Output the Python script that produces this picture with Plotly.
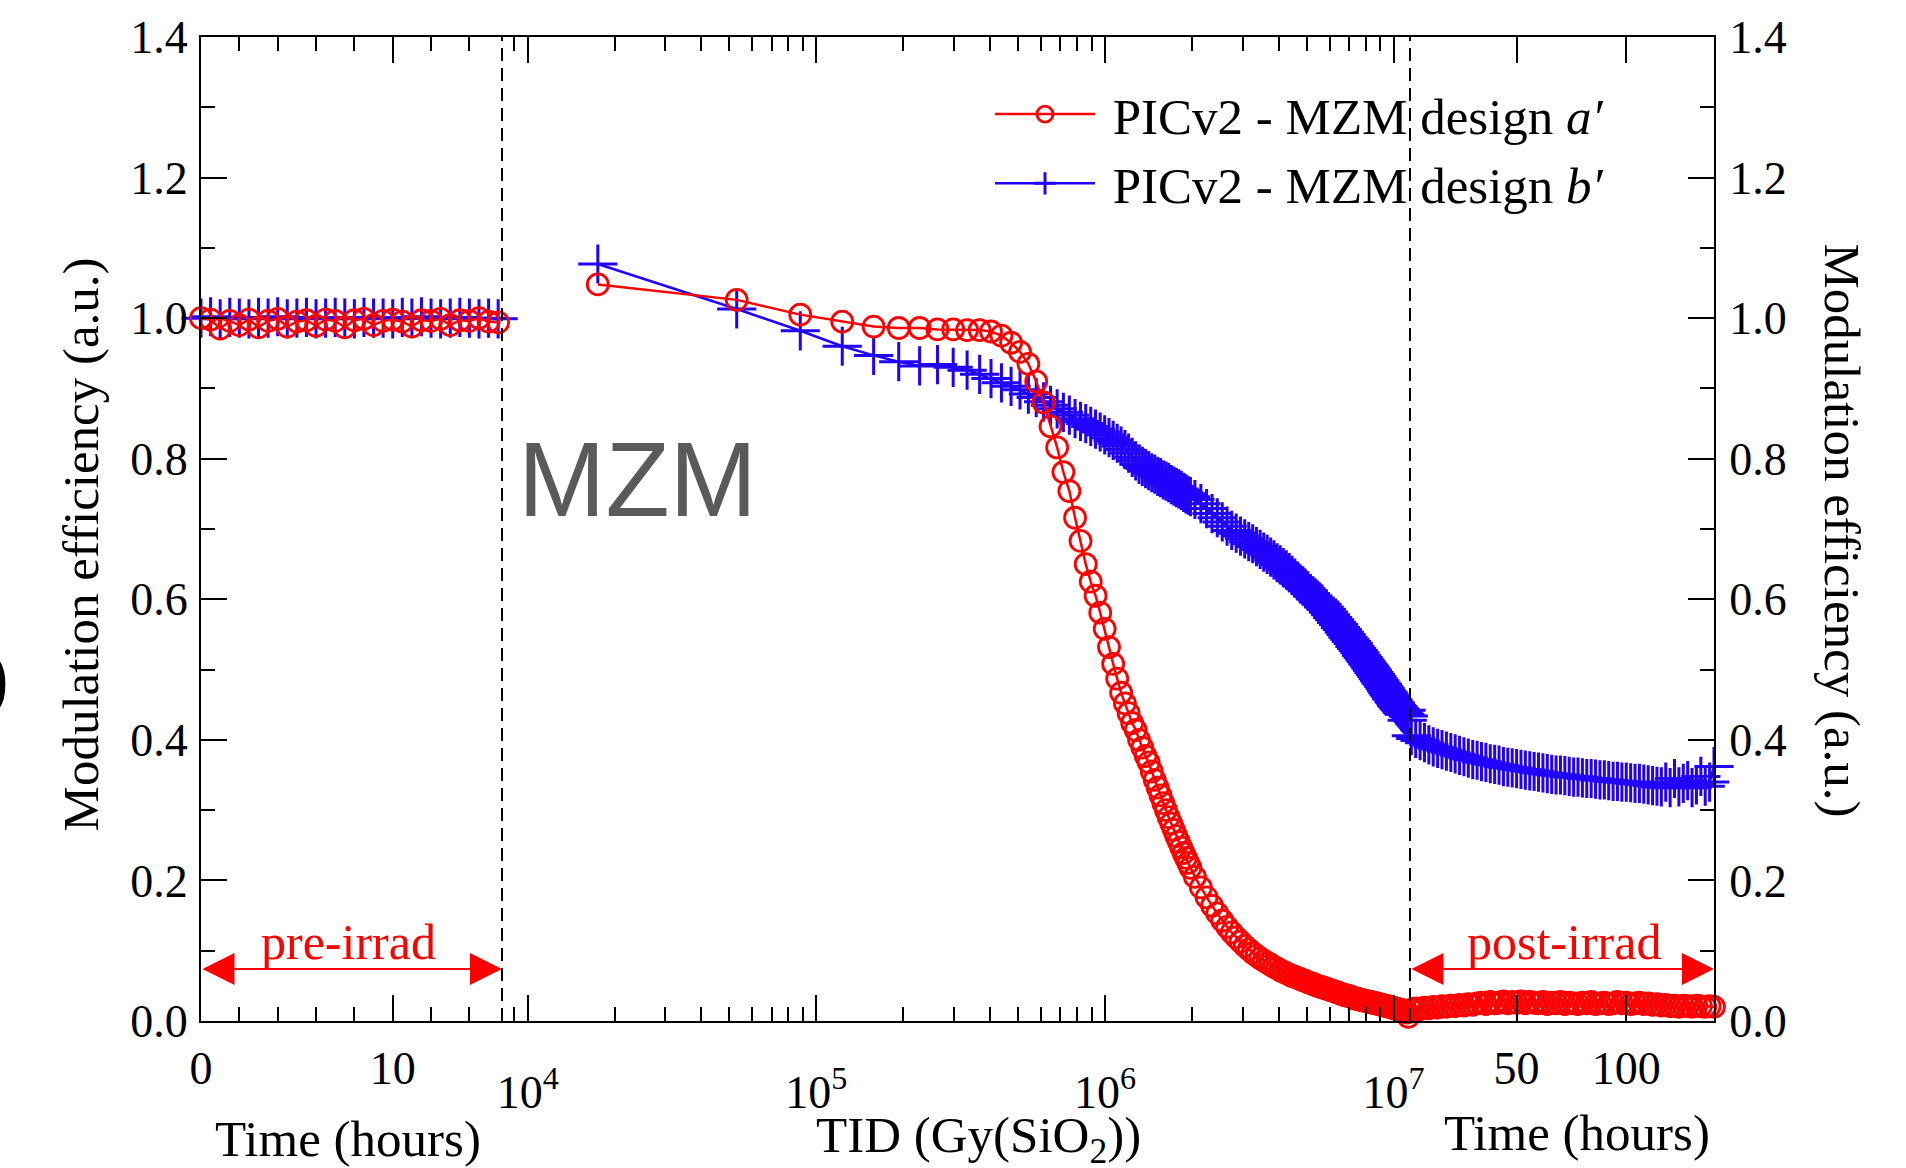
import plotly.graph_objects as go

# ---------------- data ----------------
pre_time = [0, 0.5, 1, 1.5, 2, 2.5, 3, 3.5, 4, 4.5, 5, 5.5, 6, 6.5, 7, 7.5,
            8, 8.5, 9, 9.5, 10, 10.5, 11, 11.5, 12, 12.5, 13, 13.5, 14, 14.5, 15, 15.5]
pre_a = [1.0, 0.998, 0.985, 0.996, 0.99, 0.998, 0.987, 0.996, 0.999, 0.988, 0.995, 0.997,
         0.989, 0.998, 0.996, 0.987, 0.997, 0.999, 0.99, 0.996, 0.998, 0.995, 0.988, 0.997,
         0.996, 0.999, 0.99, 0.997, 0.996, 1.0, 0.995, 0.994]
pre_b = [1.0, 1.002, 0.999, 1.001, 1.0, 0.999, 1.001, 1.0, 1.002, 0.999, 1.0, 1.001,
         0.999, 1.0, 1.001, 1.0, 0.999, 1.001, 1.0, 1.0, 0.999, 1.001, 1.0, 1.002,
         1.0, 0.999, 1.0, 1.001, 1.0, 0.999, 1.0, 0.999]

tid_dose = [17500, 53000, 88000, 123000, 158000, 193000, 228000, 263000, 298000, 333000,
            368000, 403000, 438000, 473000, 508000, 543000, 578000, 613000, 648000, 683000,
            718000, 753000, 788000, 823000, 858000, 893000, 928000, 963000, 998000, 1033000,
            1068000, 1103000, 1138000, 1173000, 1208000, 1243000, 1278000, 1313000, 1348000, 1383000,
            1418000, 1453000, 1488000, 1523000, 1558000, 1593000, 1628000, 1663000, 1698000, 1733000,
            1768000, 1803000, 1838000, 1873000, 1908000, 1943000, 1978000,
            2050000, 2150000, 2250000, 2350000, 2450000, 2550000, 2650000, 2750000, 2850000, 2950000,
            3050000, 3150000, 3250000, 3350000, 3450000, 3550000, 3650000, 3750000, 3850000, 3950000,
            4050000, 4150000, 4250000, 4350000, 4450000, 4550000, 4650000, 4750000, 4850000, 4950000,
            5050000, 5150000, 5250000, 5350000, 5450000, 5550000, 5650000, 5750000, 5850000, 5950000,
            6050000, 6150000, 6250000, 6350000, 6450000, 6550000, 6650000, 6750000, 6850000, 6950000,
            7050000, 7150000, 7250000, 7350000, 7450000, 7550000, 7650000, 7750000, 7850000, 7950000,
            8050000, 8150000, 8250000, 8350000, 8450000, 8550000, 8650000, 8750000, 8850000, 8950000,
            9050000, 9150000, 9250000, 9350000, 9450000, 9550000, 9650000, 9750000, 9850000, 9950000,
            10050000, 10150000, 10250000, 10350000, 10450000, 10550000, 10650000, 10750000, 10850000, 10950000,
            11050000, 11150000, 11250000]
tid_a = [1.048, 1.026, 1.005, 0.995, 0.988, 0.986, 0.986, 0.984, 0.984, 0.983,
         0.983, 0.981, 0.975, 0.965, 0.952, 0.935, 0.910, 0.880, 0.846, 0.816,
         0.781, 0.754, 0.716, 0.683, 0.650, 0.625, 0.605, 0.581, 0.558, 0.532,
         0.508, 0.487, 0.467, 0.452, 0.438, 0.424, 0.414, 0.400, 0.389, 0.377,
         0.368, 0.355, 0.343, 0.332, 0.321, 0.310, 0.300, 0.290, 0.281, 0.272,
         0.263, 0.255, 0.247, 0.239, 0.232, 0.225, 0.218,
         0.205, 0.190, 0.176, 0.164, 0.153, 0.143, 0.134, 0.126, 0.119, 0.113,
         0.107, 0.102, 0.097, 0.093, 0.089, 0.086, 0.083, 0.080, 0.077, 0.075,
         0.072, 0.070, 0.068, 0.066, 0.064, 0.063, 0.061, 0.060, 0.058, 0.057,
         0.055, 0.054, 0.053, 0.051, 0.050, 0.049, 0.048, 0.047, 0.046, 0.045,
         0.044, 0.043, 0.042, 0.041, 0.040, 0.039, 0.038, 0.037, 0.036, 0.036,
         0.035, 0.034, 0.033, 0.032, 0.032, 0.031, 0.030, 0.030, 0.029, 0.029,
         0.028, 0.028, 0.027, 0.027, 0.026, 0.026, 0.025, 0.025, 0.024, 0.024,
         0.023, 0.023, 0.022, 0.022, 0.021, 0.021, 0.020, 0.020, 0.019, 0.019,
         0.018, 0.018, 0.017, 0.017, 0.016, 0.016, 0.015, 0.015, 0.014, 0.014,
         0.013, 0.012, 0.006]
tid_b = [1.077, 1.013, 0.982, 0.960, 0.947, 0.938, 0.932, 0.934, 0.930, 0.926,
         0.920, 0.914, 0.908, 0.903, 0.898, 0.892, 0.887, 0.881, 0.876, 0.871,
         0.866, 0.862, 0.857, 0.853, 0.850, 0.846, 0.842, 0.838, 0.834, 0.830,
         0.826, 0.822, 0.818, 0.813, 0.808, 0.802, 0.797, 0.792, 0.789, 0.786,
         0.783, 0.780, 0.778, 0.775, 0.773, 0.770, 0.768, 0.766, 0.763, 0.761,
         0.759, 0.757, 0.755, 0.752, 0.750, 0.748, 0.746,
         0.742, 0.736, 0.729, 0.722, 0.716, 0.710, 0.704, 0.698, 0.694, 0.690,
         0.686, 0.682, 0.679, 0.675, 0.671, 0.667, 0.664, 0.660, 0.656, 0.652,
         0.649, 0.645, 0.642, 0.638, 0.634, 0.630, 0.626, 0.622, 0.619, 0.615,
         0.612, 0.608, 0.605, 0.602, 0.599, 0.596, 0.593, 0.589, 0.586, 0.582,
         0.578, 0.574, 0.571, 0.567, 0.564, 0.560, 0.557, 0.553, 0.550, 0.546,
         0.543, 0.540, 0.537, 0.533, 0.530, 0.527, 0.524, 0.520, 0.517, 0.514,
         0.511, 0.508, 0.505, 0.502, 0.499, 0.496, 0.493, 0.490, 0.487, 0.484,
         0.481, 0.479, 0.476, 0.473, 0.470, 0.467, 0.464, 0.462, 0.459, 0.457,
         0.454, 0.452, 0.449, 0.447, 0.445, 0.443, 0.441, 0.439, 0.437, 0.436,
         0.442, 0.428, 0.434]

post_time = [2, 4, 6, 8, 10, 12, 14, 16, 18, 20, 22, 24, 26, 28, 30, 32, 34, 36, 38, 40,
             42, 44, 46, 48, 50, 52, 54, 56, 58, 60, 62, 64, 66, 68, 70, 72, 74, 76, 78, 80,
             82, 84, 86, 88, 90, 92, 94, 96, 98, 100, 102, 104, 106, 108, 110, 112, 114, 116, 118, 120,
             122, 124, 126, 128, 130, 132, 134, 136, 138, 140]
post_a = [0.016, 0.018, 0.017, 0.019, 0.018, 0.020, 0.019, 0.021, 0.020, 0.022,
          0.021, 0.023, 0.022, 0.024, 0.023, 0.025, 0.026, 0.024, 0.027, 0.025,
          0.026, 0.028, 0.025, 0.027, 0.026, 0.028, 0.025, 0.027, 0.026, 0.025,
          0.027, 0.024, 0.026, 0.025, 0.027, 0.024, 0.026, 0.025, 0.024, 0.026,
          0.025, 0.027, 0.024, 0.025, 0.026, 0.024, 0.025, 0.027, 0.025, 0.026,
          0.024, 0.025, 0.026, 0.024, 0.025, 0.023, 0.024, 0.022, 0.023, 0.021,
          0.022, 0.020, 0.022, 0.021, 0.020, 0.022, 0.021, 0.020, 0.021, 0.020]
post_b = [0.406, 0.402, 0.399, 0.396, 0.393, 0.390, 0.388, 0.386, 0.384, 0.382,
          0.380, 0.378, 0.376, 0.374, 0.372, 0.371, 0.369, 0.368, 0.366, 0.365,
          0.364, 0.362, 0.361, 0.360, 0.359, 0.358, 0.357, 0.356, 0.355, 0.354,
          0.353, 0.352, 0.351, 0.350, 0.350, 0.349, 0.348, 0.347, 0.347, 0.346,
          0.345, 0.345, 0.344, 0.343, 0.343, 0.342, 0.341, 0.341, 0.340, 0.340,
          0.339, 0.338, 0.338, 0.337, 0.336, 0.335, 0.334, 0.333, 0.340, 0.332,
          0.345, 0.333, 0.338, 0.342, 0.332, 0.336, 0.348, 0.334, 0.340, 0.362]

y_ticks = [0.0, 0.2, 0.4, 0.6, 0.8, 1.0, 1.2, 1.4]
y_ticktext = ["0.0", "0.2", "0.4", "0.6", "0.8", "1.0", "1.2", "1.4"]
y_minor = [0.1, 0.3, 0.5, 0.7, 0.9, 1.1, 1.3]
pre_ticks = [0, 10]
pre_minor = [2, 4, 6, 8, 12, 14]
tid_ticks = [1e4, 1e5, 1e6, 1e7]
tid_ticktext = ["10<sup>4</sup>", "10<sup>5</sup>", "10<sup>6</sup>", "10<sup>7</sup>"]
tid_minor = [9e3, 2e4, 3e4, 4e4, 5e4, 6e4, 7e4, 8e4, 9e4,
             2e5, 3e5, 4e5, 5e5, 6e5, 7e5, 8e5, 9e5,
             2e6, 3e6, 4e6, 5e6, 6e6, 7e6, 8e6, 9e6]
post_ticks = [50, 100]

name_a = "\u00a0PICv2 - MZM design <i>a′</i>"
name_b = "\u00a0PICv2 - MZM design <i>b′</i>"

# ---------------- style ----------------
RED = "#ff0000"
BLUE = "#2200ff"
SERIF = "Liberation Serif"
W, H = 1906, 1168
L, R, T, B = 201, 192, 34, 147
pw = W - L - R
d1 = (502 - L) / pw
d2 = (1410 - L) / pw

mk_a = dict(symbol="circle-open", size=21, color=RED, line=dict(width=2.8, color=RED))
mk_b = dict(symbol="cross-thin-open", size=28, color=BLUE, line=dict(width=3, color=BLUE))
ln_a = dict(color=RED, width=2.5)
ln_b = dict(color=BLUE, width=2.5)

fig = go.Figure()
segments = [("x", pre_time, pre_a, pre_b), ("x2", tid_dose, tid_a, tid_b), ("x3", post_time, post_a, post_b)]
for i, (xa, xs, ya, yb) in enumerate(segments):
    fig.add_trace(go.Scatter(x=xs, y=yb, xaxis=xa, yaxis="y", mode="lines+markers",
                             line=ln_b, marker=mk_b, name=name_b, legendgroup="b",
                             showlegend=(i == 0), legendrank=2, cliponaxis=False))
for i, (xa, xs, ya, yb) in enumerate(segments):
    fig.add_trace(go.Scatter(x=xs, y=ya, xaxis=xa, yaxis="y", mode="lines+markers",
                             line=ln_a, marker=mk_a, name=name_a, legendgroup="a",
                             showlegend=(i == 0), legendrank=1, cliponaxis=False))
fig.add_trace(go.Scatter(x=[None], y=[None], xaxis="x3", yaxis="y2", showlegend=False,
                         hoverinfo="skip"))

tickfont = dict(family=SERIF, size=46, color="black")
axis_common = dict(showline=True, linecolor="black", linewidth=2, ticks="inside",
                   ticklen=26, tickwidth=2, tickcolor="black", showgrid=False,
                   zeroline=False, tickfont=tickfont)
minor_common = dict(ticks="inside", ticklen=14, tickwidth=2, tickcolor="black", showgrid=False)

fig.update_layout(
    width=W, height=H,
    margin=dict(l=L, r=R, t=T, b=B, pad=0),
    paper_bgcolor="white", plot_bgcolor="white",
    xaxis=dict(domain=[0, d1], range=[0, 15.7], anchor="y", mirror="ticks",
               tickmode="array", tickvals=pre_ticks, ticktext=[str(v) for v in pre_ticks],
               minor=dict(tickmode="array", tickvals=pre_minor, **minor_common),
               ticklabelstandoff=6, **axis_common),
    xaxis2=dict(domain=[d1, d2], type="log", range=[3.911, 7.057], anchor="y", mirror="ticks",
                tickmode="array", tickvals=tid_ticks, ticktext=tid_ticktext,
                minor=dict(tickmode="array", tickvals=tid_minor, **minor_common),
                ticklabelstandoff=30, **axis_common),
    xaxis3=dict(domain=[d2, 1], range=[1.4, 140], anchor="y", mirror="ticks",
                tickmode="array", tickvals=post_ticks, ticktext=[str(v) for v in post_ticks],
                ticklabelstandoff=6, **axis_common),
    yaxis=dict(domain=[0, 1], range=[0, 1.4], anchor="x", side="left",
               tickmode="array", tickvals=y_ticks, ticktext=y_ticktext,
               minor=dict(tickmode="array", tickvals=y_minor, **minor_common),
               ticklabelstandoff=2, **axis_common),
    yaxis2=dict(range=[0, 1.4], overlaying="y", anchor="x3", side="right",
                tickmode="array", tickvals=y_ticks, ticktext=y_ticktext,
                minor=dict(tickmode="array", tickvals=y_minor, **minor_common),
                ticklabelstandoff=4, **axis_common),
    legend=dict(x=(990 - L) / pw, y=0.962, xanchor="left", yanchor="top",
                bgcolor="rgba(0,0,0,0)", font=dict(family=SERIF, size=51, color="black"),
                itemwidth=100, tracegroupgap=0),
    showlegend=True,
)

shapes = []
for xd in (d1, d2):
    shapes.append(dict(type="line", xref="paper", yref="paper", x0=xd, x1=xd, y0=0, y1=1,
                       line=dict(color="black", width=2, dash="13px,7px")))
fig.update_layout(shapes=shapes)

ann = []
# double arrows
ann.append(dict(x=15.7, y=0.074, ax=0, ay=0.074, xref="x", yref="y", axref="x", ayref="y",
                text="", showarrow=True, arrowhead=2, startarrowhead=2, arrowside="end+start",
                arrowsize=3.2, startarrowsize=3.2, arrowwidth=2, arrowcolor=RED, standoff=0, startstandoff=0))
ann.append(dict(x=140, y=0.074, ax=1.4, ay=0.074, xref="x3", yref="y", axref="x3", ayref="y",
                text="", showarrow=True, arrowhead=2, startarrowhead=2, arrowside="end+start",
                arrowsize=3.2, startarrowsize=3.2, arrowwidth=2, arrowcolor=RED, standoff=0, startstandoff=0))
ann.append(dict(x=7.7, y=0.112, xref="x", yref="y", text="pre-irrad", showarrow=False,
                font=dict(family=SERIF, size=50, color=RED), xanchor="center", yanchor="middle"))
ann.append(dict(x=71.6, y=0.112, xref="x3", yref="y", text="post-irrad", showarrow=False,
                font=dict(family=SERIF, size=50, color=RED), xanchor="center", yanchor="middle"))
# MZM label
ann.append(dict(x=(637 - L) / pw, y=(1021 - 478) / 987, xref="paper", yref="paper", text="MZM",
                showarrow=False, font=dict(family="Liberation Sans", size=105, color="#5a5a5a"),
                xanchor="center", yanchor="middle"))
# axis titles
titlefont = dict(family=SERIF, size=51, color="black")
ann.append(dict(x=(348 - L) / pw, y=(1021 - 1139) / 987, xref="paper", yref="paper",
                text="Time (hours)", showarrow=False, font=titlefont, xanchor="center", yanchor="middle"))
ann.append(dict(x=(978 - L) / pw, y=(1021 - 1139) / 987, xref="paper", yref="paper",
                text="TID (Gy(SiO<sub>2</sub>))", showarrow=False, font=titlefont,
                xanchor="center", yanchor="middle"))
ann.append(dict(x=(1577 - L) / pw, y=(1021 - 1133) / 987, xref="paper", yref="paper",
                text="Time (hours)", showarrow=False, font=titlefont, xanchor="center", yanchor="middle"))
ann.append(dict(x=(81 - L) / pw, y=(1021 - 543) / 987, xref="paper", yref="paper",
                text="Modulation efficiency (a.u.)", showarrow=False, font=titlefont,
                textangle=-90, xanchor="center", yanchor="middle"))
ann.append(dict(x=(1842 - L) / pw, y=(1021 - 529) / 987, xref="paper", yref="paper",
                text="Modulation efficiency (a.u.)", showarrow=False, font=titlefont,
                textangle=90, xanchor="center", yanchor="middle"))
# cropped panel glyph at the far left edge
ann.append(dict(x=(12 - L) / pw, y=(1021 - 674) / 987, xref="paper", yref="paper",
                text="<b>b</b>", showarrow=False,
                font=dict(family="Liberation Sans", size=120, color="black"),
                xanchor="right", yanchor="middle"))
fig.update_layout(annotations=ann)

fig.write_html("out.html")
